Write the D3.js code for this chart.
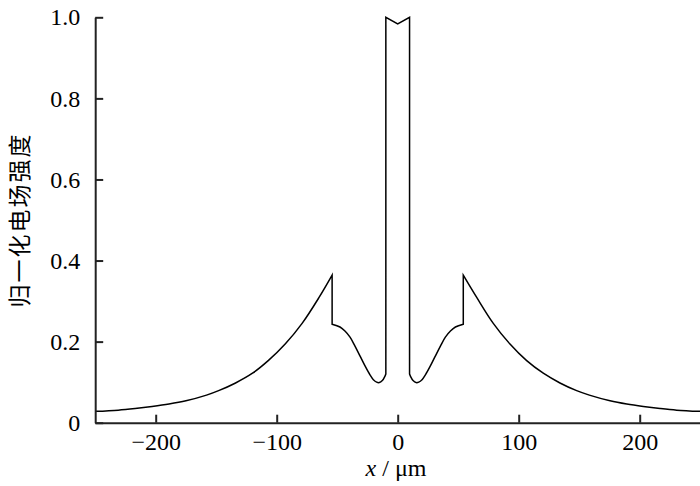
<!DOCTYPE html>
<html>
<head>
<meta charset="utf-8">
<script src="https://cdn.jsdelivr.net/npm/d3@7"></script>
<style>
  body { margin: 0; background: #fff; }
  svg { display: block; }
  .axis text { font-family: "Liberation Serif", "Times New Roman", Tinos, serif; font-size: 24px; fill: #000; }
  .axis path, .axis line { stroke: #222; stroke-width: 2; }
</style>
</head>
<body>
<svg id="chart" width="700" height="486"></svg>
<script>
// values, x in um, y normalised field strength
var leftTailX  = [-250, -231, -217, -203, -189, -175, -158, -148, -134, -120, -107, -93, -79, -65, -54.2]
var leftTailY  = [0.028, 0.031, 0.035, 0.040, 0.046, 0.054, 0.068, 0.079, 0.098, 0.122, 0.153, 0.194, 0.245, 0.309, 0.364]
var leftInnerX = [-54.2, -47.7, -43.6, -39.4, -35.3, -31.2, -27.0, -22.9, -20.1, -17.4, -15.2, -12.7, -10.5, -9.8]
var leftInnerY = [0.243, 0.236, 0.226, 0.211, 0.189, 0.165, 0.140, 0.118, 0.106, 0.100, 0.099, 0.104, 0.115, 0.120]
var coreX      = [-9.8, -9.8, 0, 9.8, 9.8]
var coreY      = [0.120, 1.0, 0.984, 1.0, 0.120]
var rightInnerX = [9.8, 10.5, 12.7, 15.2, 17.4, 20.1, 22.9, 27.0, 31.2, 35.3, 39.4, 43.6, 47.7, 54.2]
var rightInnerY = [0.120, 0.115, 0.104, 0.099, 0.100, 0.106, 0.118, 0.140, 0.165, 0.189, 0.211, 0.226, 0.236, 0.243]
var rightTailX = [54.2, 65.3, 79, 92.8, 106.6, 120.3, 134.1, 147.9, 158.4, 175.5, 189.3, 203, 216.8, 230.6, 250]
var rightTailY = [0.364, 0.309, 0.245, 0.194, 0.153, 0.122, 0.098, 0.079, 0.068, 0.054, 0.046, 0.040, 0.035, 0.031, 0.028]

var xTicks = [-200, -100, 0, 100, 200]
var yTicks = [0, 0.2, 0.4, 0.6, 0.8, 1.0]
var xTitle = "/ μm"
var yTitle = "归一化电场强度"

var svg = d3.select("#chart")

var x = d3.scaleLinear().domain([-250, 250]).range([95.2, 700.2])
var y = d3.scaleLinear().domain([0, 1]).range([422.7, 17.3])

function pts(xs, ys) {
    return xs.map(function(d, i) { return [d, ys[i]] })
}

var smooth = d3.line()
    .x(function(d) { return x(d[0]) })
    .y(function(d) { return y(d[1]) })
    .curve(d3.curveCatmullRom.alpha(0.5))

var straight = d3.line()
    .x(function(d) { return x(d[0]) })
    .y(function(d) { return y(d[1]) })

// glue the pieces into one path, jumps are straight lines
var pieces = [
    smooth(pts(leftTailX, leftTailY)),
    smooth(pts(leftInnerX, leftInnerY)),
    straight(pts(coreX, coreY)),
    smooth(pts(rightInnerX, rightInnerY)),
    smooth(pts(rightTailX, rightTailY))
]
var d = pieces[0]
for (i = 1; i < pieces.length; i++) {
    d += "L" + pieces[i].slice(1)
}

svg.append("path")
    .attr("d", d)
    .attr("fill", "none")
    .attr("stroke", "#000")
    .attr("stroke-width", 1.5)
    .attr("stroke-linejoin", "miter")

var xAxis = d3.axisBottom(x)
    .tickValues(xTicks)
    .tickSizeInner(-8)
    .tickSizeOuter(0)
    .tickPadding(10)

var yAxis = d3.axisLeft(y)
    .tickValues(yTicks)
    .tickSizeInner(-8)
    .tickSizeOuter(0)
    .tickPadding(15)
    .tickFormat(function(d) { return d === 0 ? "0" : d.toFixed(1) })

svg.append("g")
    .attr("class", "axis")
    .attr("transform", "translate(0," + y(0) + ")")
    .call(xAxis)
    .attr("font-family", null)

svg.append("g")
    .attr("class", "axis")
    .attr("transform", "translate(" + x(-250) + ",0)")
    .call(yAxis)
    .attr("font-family", null)

var xt = svg.append("text")
    .attr("x", 396)
    .attr("y", 476)
    .attr("text-anchor", "middle")
    .style("font-family", "'Liberation Serif', 'Times New Roman', Tinos, serif")
    .style("font-size", "24px")
xt.append("tspan").style("font-style", "italic").text("x")
xt.append("tspan").text(" " + xTitle)

svg.append("text")
    .attr("transform", "translate(28,220) rotate(-90)")
    .attr("text-anchor", "middle")
    .style("font-family", "'Noto Sans CJK SC', sans-serif")
    .style("font-size", "23px")
    .style("letter-spacing", "2px")
    .text(yTitle)
</script>
</body>
</html>
